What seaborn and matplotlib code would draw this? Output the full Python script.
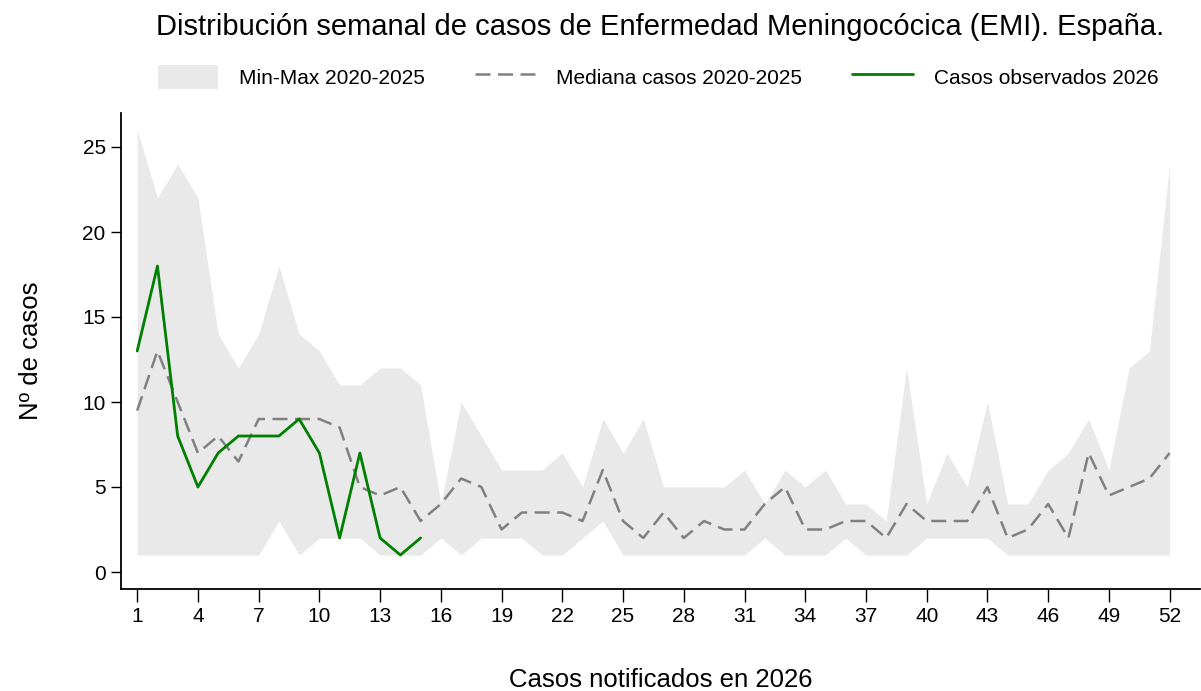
import numpy as np
import pandas as pd
import matplotlib
matplotlib.use("Agg")
import matplotlib.pyplot as plt
import seaborn as sns

weeks = list(range(1, 53))
max_vals = [26, 22, 24, 22, 14, 12, 14, 18, 14, 13, 11, 11, 12, 12, 11, 4, 10, 8, 6, 6,
            6, 7, 5, 9, 7, 9, 5, 5, 5, 5, 6, 4, 6, 5, 6, 4, 4, 3, 12, 4,
            7, 5, 10, 4, 4, 6, 7, 9, 6, 12, 13, 24]
min_vals = [1, 1, 1, 1, 1, 1, 1, 3, 1, 2, 2, 2, 1, 1, 1, 2, 1, 2, 2, 2,
            1, 1, 2, 3, 1, 1, 1, 1, 1, 1, 1, 2, 1, 1, 1, 2, 1, 1, 1, 2,
            2, 2, 2, 1, 1, 1, 1, 1, 1, 1, 1, 1]
median_vals = [9.5, 13, 10, 7, 8, 6.5, 9, 9, 9, 9, 8.5, 5, 4.5, 5, 3, 4, 5.5, 5, 2.5, 3.5,
               3.5, 3.5, 3, 6, 3, 2, 3.5, 2, 3, 2.5, 2.5, 4, 5, 2.5, 2.5, 3, 3, 2, 4, 3,
               3, 3, 5, 2, 2.5, 4, 2, 7, 4.5, 5, 5.5, 7]
obs_weeks = list(range(1, 16))
obs_vals = [13, 18, 8, 5, 7, 8, 8, 8, 9, 7, 2, 7, 2, 1, 2]

df_hist = pd.DataFrame({"semana": weeks, "max": max_vals, "min": min_vals, "mediana": median_vals})
df_obs = pd.DataFrame({"semana": obs_weeks, "casos": obs_vals})

sns.set_theme(style="ticks")
plt.rcParams["font.family"] = ["Liberation Sans", "DejaVu Sans"]
plt.rcParams.update({"text.color": "black", "axes.labelcolor": "black",
                     "xtick.color": "black", "ytick.color": "black"})

fig = plt.figure(figsize=(12.01, 6.91), dpi=100)
ax = fig.add_axes([121 / 1201, 1 - 589 / 691, (1200 - 121) / 1201, (589 - 113) / 691])

ax.fill_between(df_hist["semana"], df_hist["min"], df_hist["max"],
                color="#e9e9e9", linewidth=0, label="Min-Max 2020-2025")
sns.lineplot(data=df_hist, x="semana", y="mediana", ax=ax, color="#808080",
             linewidth=1.8, linestyle=(0, (6, 3)), label="Mediana casos 2020-2025")
sns.lineplot(data=df_obs, x="semana", y="casos", ax=ax, color="#008000",
             linewidth=2, label="Casos observados 2026")

ax.set_xlim(0.2, 53.5)
ax.set_ylim(-1, 27)
ax.set_xticks(list(range(1, 53, 3)))
ax.set_yticks([0, 5, 10, 15, 20, 25])
ax.tick_params(axis="both", labelsize=15, length=8, width=1, direction="out")
ax.tick_params(axis="x", length=9, pad=4)
ax.tick_params(axis="y", length=7, pad=4)
for s in ["top", "right"]:
    ax.spines[s].set_visible(False)
for s in ["left", "bottom"]:
    ax.spines[s].set_color("black")
    ax.spines[s].set_linewidth(1.3)

ax.set_xlabel("Casos notificados en 2026", fontsize=18.5, labelpad=30)
ax.set_ylabel("Nº de casos", fontsize=18.5, labelpad=28)

fig.suptitle("Distribución semanal de casos de Enfermedad Meningocócica (EMI). España.",
             fontsize=21, x=660 / 1201, y=1 - 13 / 691, va="top")

handles, labels = ax.get_legend_handles_labels()
ax.legend(handles, labels, ncol=3, frameon=False, fontsize=15,
          loc="center", bbox_to_anchor=(658 / 1201, 1 - 77 / 691),
          bbox_transform=fig.transFigure, handlelength=2.9, handleheight=1.4,
          handletextpad=1.0, columnspacing=2.4)

fig.savefig("out.png", dpi=100)
